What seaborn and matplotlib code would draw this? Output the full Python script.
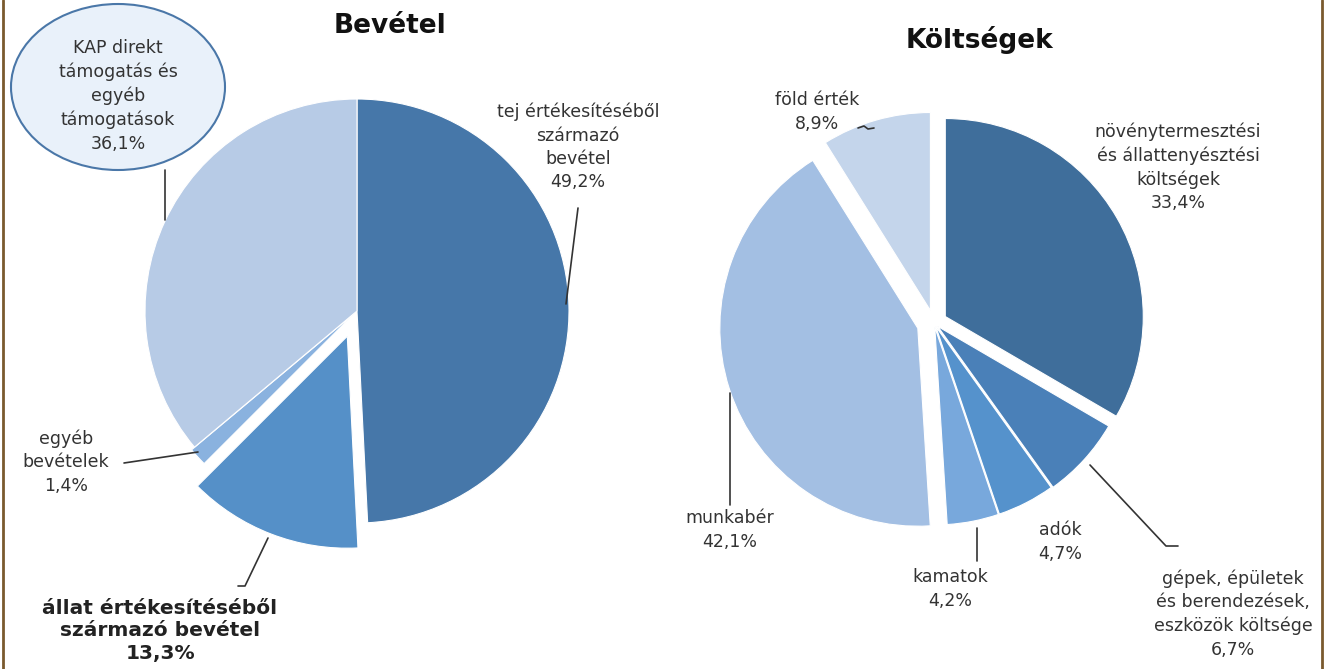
import matplotlib
matplotlib.use("Agg")
import matplotlib.pyplot as plt
from matplotlib.patches import Ellipse
import seaborn as sns

# data
bev_labels = ["tej értékesítéséből\nszármazó\nbevétel", "állat értékesítéséből\nszármazó bevétel",
              "egyéb\nbevételek", "KAP direkt\ntámogatás és\negyéb\ntámogatások"]
bev_values = [49.2, 13.3, 1.4, 36.1]
bev_colors = ["#4677a9", "#5590c8", "#8ab2df", "#b7cbe6"]

kolt_labels = ["növénytermesztési\nés állattenyésztési\nköltségek", "gépek, épületek\nés berendezések,\neszközök költsége",
               "adók", "kamatok", "munkabér", "föld érték"]
kolt_values = [33.4, 6.7, 4.7, 4.2, 42.1, 8.9]
kolt_colors = ["#3f6e9b", "#4a80b8", "#5592cc", "#78a8dc", "#a3bfe3", "#c4d5eb"]


def pct(v):
    return f"{v:.1f}%".replace(".", ",")


sns.set_theme(style="white")
plt.rcParams['font.family'] = ['DejaVu Sans']

W, H = 1333, 669
fig = plt.figure(figsize=(W / 100, H / 100), dpi=100)
fig.patch.set_facecolor("white")
ax = fig.add_axes([0, 0, 1, 1])


def Y(y):
    return H - y


txt = dict(color="#333333", fontsize=12.5, ha="center", va="center", linespacing=1.38)
line = dict(color="#333333", lw=1.2)

# Bevétel pie (explode is in data units = pixels here)
ax.pie(bev_values, colors=bev_colors, startangle=90, counterclock=False,
       explode=[0, 27, 4, 0], center=(357, Y(311)), radius=212, frame=True,
       wedgeprops=dict(edgecolor="white", linewidth=0.8))

# Költségek pie
ax.pie(kolt_values, colors=kolt_colors, startangle=90, counterclock=False,
       explode=[13, 5, 4, 4, 17, 13], center=(934, Y(323)), radius=198, frame=True,
       wedgeprops=dict(edgecolor="white", linewidth=0.8))

ax.set_xlim(0, W)
ax.set_ylim(0, H)
ax.set_aspect("equal")
ax.axis("off")

# titles
ax.text(390, Y(26), "Bevétel", fontsize=19, fontweight="bold", ha="center", va="center", color="#111111")
ax.text(980, Y(40), "Költségek", fontsize=19, fontweight="bold", ha="center", va="center", color="#111111")

# Bevétel labels
ax.add_patch(Ellipse((118, Y(87)), 214, 166, facecolor="#e9f1fa", edgecolor="#4a77a8", lw=1.5))
ax.text(118, Y(96), bev_labels[3] + "\n" + pct(bev_values[3]), **txt)
ax.plot([165, 165], [Y(170), Y(220)], **line)

ax.text(578, Y(147), bev_labels[0] + "\n" + pct(bev_values[0]), **txt)
ax.plot([578, 566], [Y(208), Y(304)], **line)

ax.text(66, Y(462), bev_labels[2] + "\n" + pct(bev_values[2]), **txt)
ax.plot([124, 198], [Y(463), Y(452)], **line)

bold_txt = dict(txt, fontsize=14.5, fontweight="bold", color="#222222", linespacing=1.2)
ax.text(160, Y(631), bev_labels[1] + "\n" + pct(bev_values[1]), **bold_txt)
ax.plot([238, 245, 268], [Y(586), Y(586), Y(538)], **line)

# Költségek labels
ax.text(817, Y(112), kolt_labels[5] + "\n" + pct(kolt_values[5]), **txt)
ax.plot([858, 864, 868, 874], [Y(128), Y(126), Y(129), Y(128)], **line)

ax.text(1178, Y(167), kolt_labels[0] + "\n" + pct(kolt_values[0]), **txt)

ax.text(730, Y(530), kolt_labels[4] + "\n" + pct(kolt_values[4]), **txt)
ax.plot([730, 730], [Y(393), Y(505)], **line)

ax.text(950, Y(589), kolt_labels[3] + "\n" + pct(kolt_values[3]), **txt)
ax.plot([977, 977], [Y(528), Y(561)], **line)

ax.text(1060, Y(542), kolt_labels[2] + "\n" + pct(kolt_values[2]), **txt)

ax.text(1233, Y(614), kolt_labels[1] + "\n" + pct(kolt_values[1]), **txt)
ax.plot([1090, 1166, 1178], [Y(465), Y(546), Y(546)], **line)

# frame lines
ax.plot([3, 3], [0, H], color="#7a5a2e", lw=2)
ax.plot([1322, 1322], [0, H], color="#7a5a2e", lw=2)

fig.savefig("out.png", dpi=100)
